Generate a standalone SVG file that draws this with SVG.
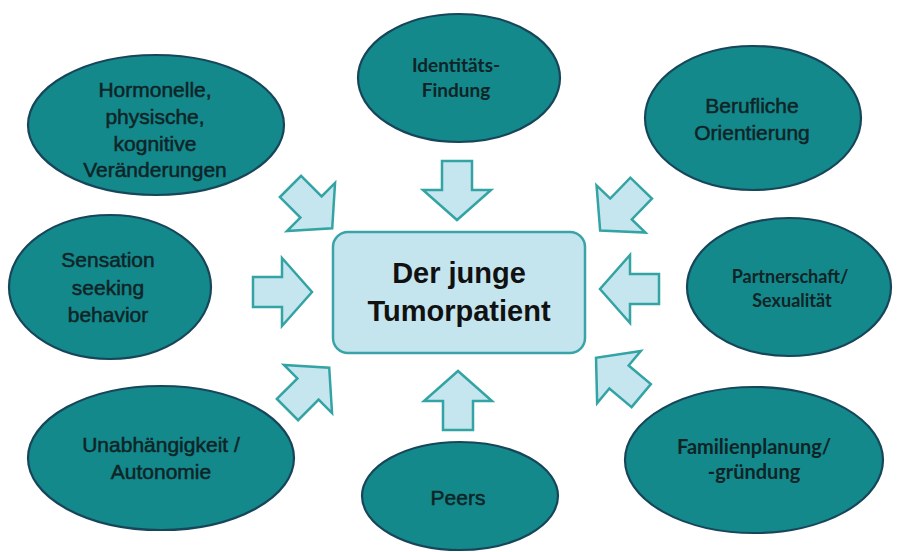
<svg xmlns="http://www.w3.org/2000/svg" width="898" height="552" viewBox="0 0 898 552">
<defs>
<style>
.node ellipse{fill:#13898c;stroke:#17465a;stroke-width:2.2}
.a{font-family:"Liberation Sans",Arial,sans-serif;font-size:21px;fill:#0f2426;stroke:#0f2426;stroke-width:0.5;text-anchor:middle}
.c{font-family:Lato,"Open Sans",sans-serif;font-weight:bold;font-size:18px;fill:#0f2426;text-anchor:middle}
.c19{font-size:19px}
.c20{font-size:20px}
.center rect{fill:#c4e5ee;stroke:#3aa3a8;stroke-width:2.5}
.ct{font-family:"Liberation Sans",Arial,sans-serif;font-weight:bold;font-size:29px;fill:#111;text-anchor:middle}
.arr{fill:#c6e6ef;stroke:#33a3a4;stroke-width:2.5;stroke-linejoin:miter}
</style>
<path id="blk" d="M-29,-15 L0,-15 L0,-34 L30,0 L0,34 L0,15 L-29,15 Z"/>
</defs>
<rect width="898" height="552" fill="#ffffff"/>

<g id="connectors">
<use href="#blk" class="arr" transform="translate(282,292)"/>
<use href="#blk" class="arr" transform="translate(630,289) rotate(180)"/>
<use href="#blk" class="arr" transform="translate(457,190) rotate(90)"/>
<use href="#blk" class="arr" transform="translate(458,401) rotate(-90)"/>
<use href="#blk" class="arr" transform="translate(311,207) rotate(45)"/>
<use href="#blk" class="arr" transform="translate(621,209) rotate(134)"/>
<use href="#blk" class="arr" transform="translate(308,389) rotate(-45)"/>
<use href="#blk" class="arr" transform="translate(619,377) rotate(-140)"/>
</g>

<g id="center" class="center">
<rect x="333" y="232" width="252" height="121" rx="15"/>
<text class="ct" x="459" y="283">Der junge</text>
<text class="ct" x="459" y="321">Tumorpatient</text>
</g>

<g id="hormonelle" class="node">
<ellipse cx="156" cy="125" rx="128" ry="70"/>
<text class="a" x="155" y="97">Hormonelle,</text>
<text class="a" x="155" y="124">physische,</text>
<text class="a" x="155" y="151">kognitive</text>
<text class="a" x="155" y="177">Veränderungen</text>
</g>

<g id="identitaet" class="node">
<ellipse cx="459" cy="78" rx="101" ry="64"/>
<text class="c c19" x="456" y="72">Identitäts-</text>
<text class="c c19" x="456" y="97">Findung</text>
</g>

<g id="beruf" class="node">
<ellipse cx="753" cy="118" rx="108" ry="72"/>
<text class="a" x="752" y="113">Berufliche</text>
<text class="a" x="752" y="140">Orientierung</text>
</g>

<g id="sensation" class="node">
<ellipse cx="110" cy="287" rx="101" ry="72"/>
<text class="a" x="108" y="267">Sensation</text>
<text class="a" x="108" y="295">seeking</text>
<text class="a" x="108" y="322">behavior</text>
</g>

<g id="partnerschaft" class="node">
<ellipse cx="789" cy="287" rx="102" ry="69"/>
<text class="c" x="790" y="283">Partnerschaft/</text>
<text class="c" x="792" y="307">Sexualität</text>
</g>

<g id="autonomie" class="node">
<ellipse cx="161" cy="458" rx="133" ry="72"/>
<text class="a" x="161" y="452">Unabhängigkeit /</text>
<text class="a" x="161" y="479">Autonomie</text>
</g>

<g id="peers" class="node">
<ellipse cx="460" cy="496" rx="98" ry="54"/>
<text class="a" x="458" y="505">Peers</text>
</g>

<g id="familie" class="node">
<ellipse cx="754" cy="460" rx="129" ry="73"/>
<text class="c c20" x="754" y="454">Familienplanung/</text>
<text class="c c20" x="754" y="479">-gründung</text>
</g>
</svg>
